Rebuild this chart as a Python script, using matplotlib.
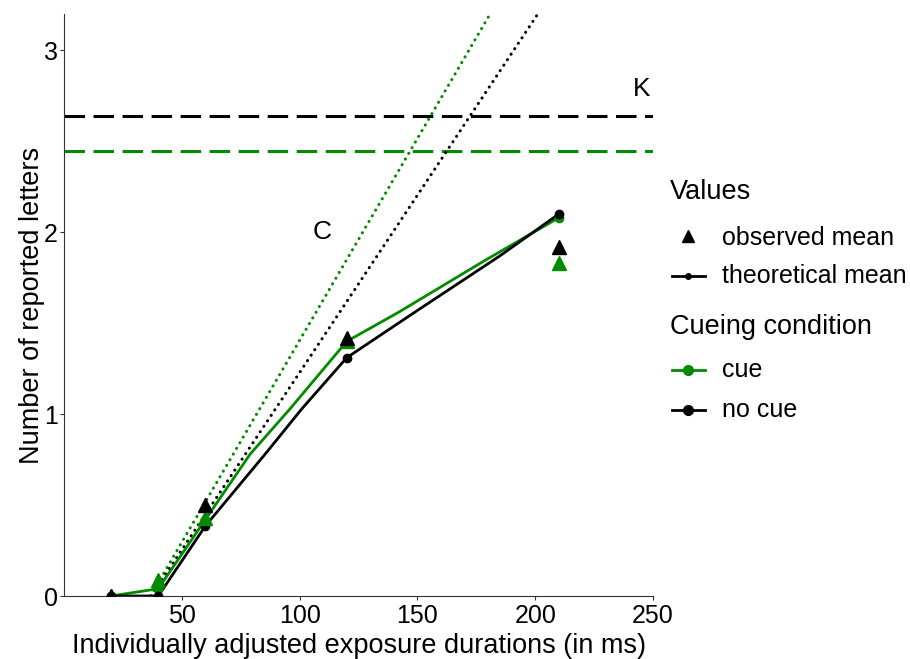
import matplotlib
matplotlib.use("Agg")
import matplotlib.pyplot as plt
from matplotlib.lines import Line2D

plt.rcParams['font.family'] = ['Liberation Sans', 'DejaVu Sans']

GREEN = '#008B00'

# theoretical mean curves
theo_nocue_x = [20, 40, 60, 86, 101, 120, 150, 185, 210]
theo_nocue_y = [0.0, 0.0, 0.385, 0.79, 1.03, 1.31, 1.57, 1.87, 2.10]
theo_cue_x = [20, 40, 60, 79, 96, 120, 142, 178, 210]
theo_cue_y = [0.0, 0.04, 0.42, 0.78, 1.03, 1.40, 1.56, 1.84, 2.08]

# theoretical mean points at the exposure durations
pt_x = [20, 40, 60, 120, 210]
pt_nocue_y = [0.0, 0.0, 0.385, 1.31, 2.10]
pt_cue_y = [0.0, 0.04, 0.42, 1.40, 2.08]

# observed means
obs_nocue_x = [20, 60, 120, 210]
obs_nocue_y = [0.0, 0.50, 1.42, 1.92]
obs_cue_x = [20, 40, 60, 120, 210]
obs_cue_y = [0.0, 0.09, 0.43, 1.40, 1.83]

# parameters: capacity K, processing speed C (letters/s), threshold t0 (ms)
K_nocue, K_cue = 2.64, 2.445
C_nocue, C_cue = 19.5, 22.2
t0_nocue, t0_cue = 37.0, 36.7

W, H = 910, 659
fig = plt.figure(figsize=(W / 100, H / 100), dpi=100)
ax = fig.add_axes([64 / W, 1 - 596 / H, 589 / W, 582 / H])

# K lines
ax.plot([0, 250], [K_nocue, K_nocue], color='black', lw=2.2, ls=(0, (6.7, 2.8)))
ax.plot([0, 250], [K_cue, K_cue], color=GREEN, lw=2.2, ls=(0, (6.7, 2.8)))

# C lines
for C, t0, col in [(C_cue, t0_cue, GREEN), (C_nocue, t0_nocue, 'black')]:
    xe = t0 + 3.2 / (C / 1000.0)
    ax.plot([t0, xe], [0, (xe - t0) * C / 1000.0], color=col, lw=2.2,
            ls=(0, (0.05, 2.1)), dash_capstyle='round')

# theoretical lines
ax.plot(theo_cue_x, theo_cue_y, color=GREEN, lw=2.0, zorder=3)
ax.plot(theo_nocue_x, theo_nocue_y, color='black', lw=2.0, zorder=3)
ax.plot(pt_x, pt_cue_y, 'o', color=GREEN, ms=6, zorder=4)
ax.plot(pt_x, pt_nocue_y, 'o', color='black', ms=6, zorder=4)

# observed means
ax.plot(obs_cue_x, obs_cue_y, '^', color=GREEN, ms=10, zorder=5)
ax.plot(obs_nocue_x, obs_nocue_y, '^', color='black', ms=10, zorder=6)

ax.text(245, 2.79, 'K', fontsize=19, ha='center', va='center')
ax.text(109.5, 2.0, 'C', fontsize=19, ha='center', va='center')

ax.set_xlim(0, 250)
ax.set_ylim(0, 3.2)
ax.set_xticks([50, 100, 150, 200, 250])
ax.set_yticks([0, 1, 2, 3])
ax.tick_params(labelsize=18, length=3, color='#333333', labelcolor='black')
ax.tick_params(axis='y', pad=1.5)
ax.tick_params(axis='x', pad=3)
for s in ['top', 'right']:
    ax.spines[s].set_visible(False)
for s in ['left', 'bottom']:
    ax.spines[s].set_color('#333333')
    ax.spines[s].set_linewidth(0.8)

ax.set_xlabel('Individually adjusted exposure durations (in ms)', fontsize=19.5)
ax.set_ylabel('Number of reported letters', fontsize=19.5)
ax.xaxis.set_label_coords(0.5, (596 - 633) / 582)
ax.yaxis.set_label_coords((45 - 64) / 589, 0.5)

# manual legends (figure pixel coordinates converted)
def fx(px):
    return px / W

def fy(py):
    return 1 - py / H

title_fs, item_fs = 19.5, 18
fig.text(fx(670), fy(192), 'Values', fontsize=title_fs, va='center', ha='left')
fig.add_artist(Line2D([fx(688)], [fy(236)], marker='^', ls='none', color='black', ms=8))
fig.text(fx(722), fy(238), 'observed mean', fontsize=item_fs, va='center', ha='left')
fig.add_artist(Line2D([fx(672), fx(705)], [fy(276), fy(276)], color='black', lw=2))
fig.add_artist(Line2D([fx(688)], [fy(276)], marker='o', ls='none', color='black', ms=4))
fig.text(fx(722), fy(276), 'theoretical mean', fontsize=item_fs, va='center', ha='left')

fig.text(fx(670), fy(327), 'Cueing condition', fontsize=title_fs, va='center', ha='left')
fig.add_artist(Line2D([fx(672), fx(705)], [fy(370), fy(370)], color=GREEN, lw=2))
fig.add_artist(Line2D([fx(688)], [fy(370)], marker='o', ls='none', color=GREEN, ms=7))
fig.text(fx(722), fy(370), 'cue', fontsize=item_fs, va='center', ha='left')
fig.add_artist(Line2D([fx(672), fx(705)], [fy(410), fy(410)], color='black', lw=2))
fig.add_artist(Line2D([fx(688)], [fy(410)], marker='o', ls='none', color='black', ms=7))
fig.text(fx(722), fy(410), 'no cue', fontsize=item_fs, va='center', ha='left')

fig.savefig('out.png', dpi=100)
